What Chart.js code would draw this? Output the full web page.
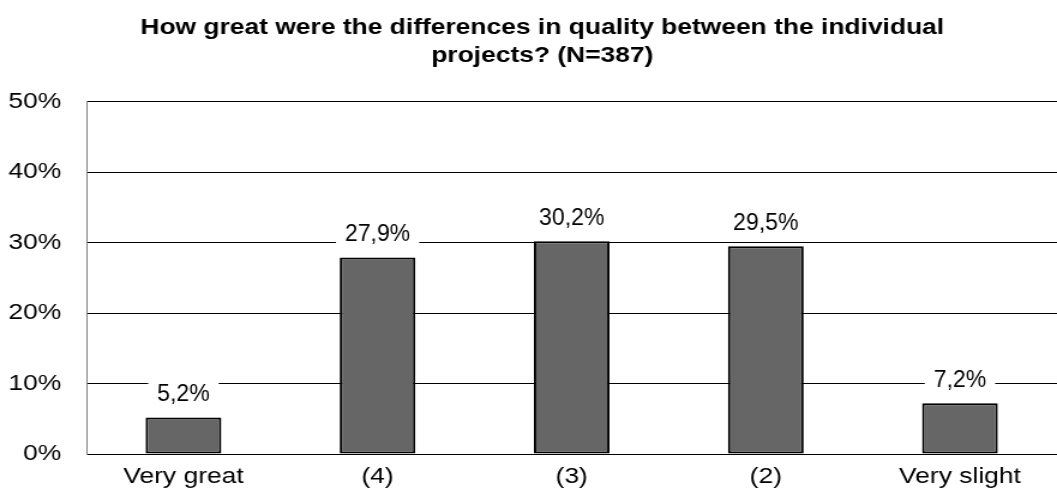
<!DOCTYPE html>
<html>
<head>
<meta charset="utf-8">
<script src="https://cdn.jsdelivr.net/npm/chart.js@4/dist/chart.umd.min.js"></script>
<style>
html,body{margin:0;padding:0;background:#fff;overflow:hidden;}
#wrap{width:1057px;height:500px;position:relative;overflow:hidden;}
#c{position:absolute;left:0;top:0;transform-origin:0 0;}
</style>
</head>
<body>
<div id="wrap"><canvas id="c" width="881" height="500"></canvas></div>
<script>
const titleLines = ["How great were the differences in quality between the individual", "projects? (N=387)"];
const categories = ["Very great", "(4)", "(3)", "(2)", "Very slight"];
const values = [5.2, 27.9, 30.2, 29.5, 7.2];
const valueLabels = ["5,2%", "27,9%", "30,2%", "29,5%", "7,2%"];
const yTickSuffix = "%";

const FONT = "'Liberation Sans', Arial, Helvetica, sans-serif";
const STRETCH = 1057 / 881;
document.getElementById('c').style.transform = 'scaleX(' + STRETCH + ')';

const titleShift = {
  id: 'titleShift',
  afterLayout(chart) {
    if (chart.titleBlock) {
      chart.titleBlock.left += 9;
      chart.titleBlock.right += 9;
    }
  }
};

const labelPlugin = {
  id: 'valueLabels',
  afterDatasetsDraw(chart) {
    const ctx = chart.ctx;
    const meta = chart.getDatasetMeta(0);
    meta.data.forEach((bar, i) => {
      const txt = valueLabels[i];
      ctx.save();
      ctx.translate(bar.x, bar.y - 24);
      ctx.scale(1 / STRETCH, 1);
      ctx.font = "23px " + FONT;
      ctx.textAlign = 'center';
      ctx.textBaseline = 'middle';
      const w = ctx.measureText(txt).width;
      ctx.fillStyle = '#fff';
      ctx.fillRect(-w / 2 - 9, -12, w + 18, 24);
      ctx.fillStyle = '#000';
      ctx.fillText(txt, 0, 1);
      ctx.restore();
    });
  }
};

new Chart(document.getElementById('c'), {
  type: 'bar',
  data: {
    labels: categories,
    datasets: [{
      data: values,
      backgroundColor: '#666666',
      borderColor: '#000000',
      borderWidth: 2,
      borderSkipped: false,
      barPercentage: 0.39,
      categoryPercentage: 1.0
    }]
  },
  options: {
    responsive: false,
    animation: false,
    devicePixelRatio: 1,
    layout: { padding: { left: 0, right: -5, top: 0, bottom: 0 } },
    plugins: {
      legend: { display: false },
      tooltip: { enabled: false },
      title: {
        display: true,
        text: titleLines,
        color: '#000',
        font: { family: FONT, size: 22, weight: 'bold', lineHeight: 1.27 },
        padding: { top: 14, bottom: 32 }
      }
    },
    scales: {
      x: {
        grid: { display: false, drawTicks: false },
        border: { display: true, color: '#000', width: 1 },
        ticks: { color: '#000', font: { family: FONT, size: 22 }, padding: 10, maxRotation: 0, autoSkip: false },
        afterFit(scale) { scale.height = 46; }
      },
      y: {
        min: 0, max: 50,
        grid: { color: '#000', lineWidth: 1, drawTicks: false },
        border: { display: true, color: '#808080', width: 1 },
        ticks: {
          stepSize: 10,
          color: '#000',
          font: { family: FONT, size: 22 },
          padding: 21,
          callback: v => v + yTickSuffix
        },
        afterFit(scale) { scale.width = 72; }
      }
    }
  },
  plugins: [labelPlugin, titleShift]
});
</script>
</body>
</html>
